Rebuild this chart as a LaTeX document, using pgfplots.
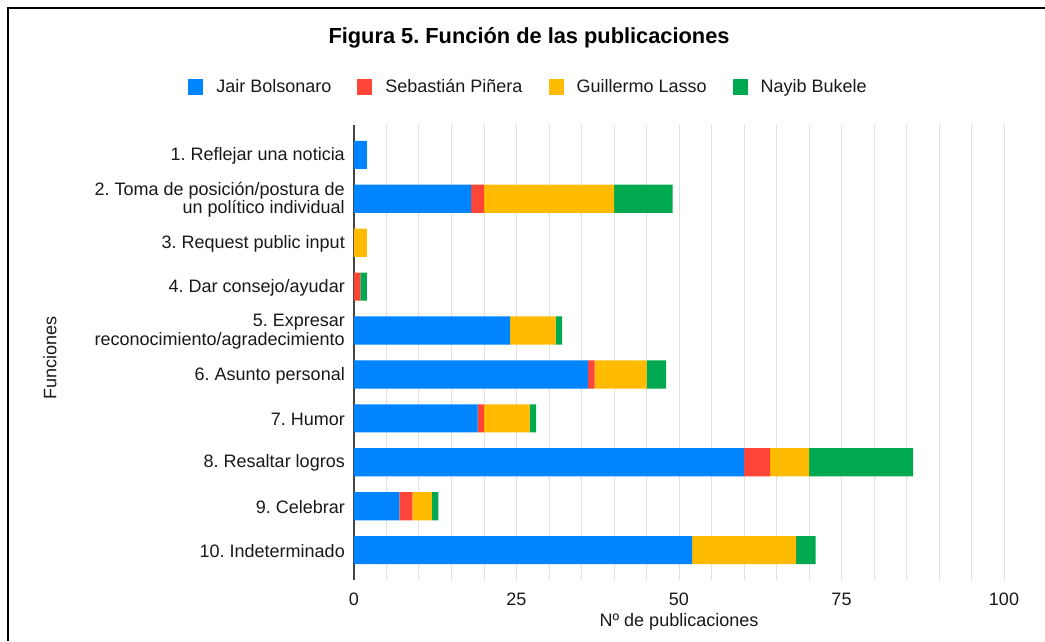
\documentclass[border=0pt]{standalone}
\usepackage{fontspec}
\setmainfont{Liberation Sans}
\usepackage{pgfplots}
\pgfplotsset{compat=1.18}
\definecolor{cBlue}{HTML}{0084FF}
\definecolor{cRed}{HTML}{FF4538}
\definecolor{cYellow}{HTML}{FFBB00}
\definecolor{cGreen}{HTML}{00A94F}
\definecolor{cGrid}{HTML}{E0E0E0}
\definecolor{cAxis}{HTML}{444444}
\frenchspacing
\begin{document}
\begin{tikzpicture}[x=1pt,y=1pt]
\useasboundingbox (0,0) rectangle (1045,641);
\fill[white] (0,0) rectangle (1045,641);
\draw[line width=2pt] (8,0) -- (8,633) -- (1046,633);
\begin{axis}[
  at={(354pt,61pt)}, anchor=south west,
  scale only axis, width=650pt, height=455pt,
  xbar stacked, bar width=0.64,
  xmin=0, xmax=100, ymin=-0.68, ymax=9.68, y dir=reverse,
  xtick={25,50,75,100},
  minor xtick={5,10,15,20,30,35,40,45,55,60,65,70,80,85,90,95},
  xmajorgrids, xminorgrids,
  major grid style={draw=cGrid, line width=1pt},
  minor grid style={draw=cGrid, line width=1pt},
  extra x ticks={0}, extra x tick labels={0},
  extra x tick style={major grid style={draw=cAxis, line width=1.4pt}},
  axis line style={draw=none},
  tick style={draw=none},
  major tick length=0pt, minor tick length=0pt,
  ytick={0,...,9},
  yticklabels={{1. Reflejar una noticia},
    {2. Toma de posición/postura de\\un político individual},
    {3. Request public input},
    {4. Dar consejo/ayudar},
    {5. Expresar\\reconocimiento/agradecimiento},
    {6. Asunto personal},
    {7. Humor},
    {8. Resaltar logros},
    {9. Celebrar},
    {10. Indeterminado}},
  yticklabel style={align=right, font=\fontsize{18}{18.5}\selectfont, inner sep=0pt, xshift=-9pt, yshift=-1pt, text=black!90},
  xticklabel style={font=\fontsize{18}{18.5}\selectfont, inner sep=0pt, yshift=-13pt, text=black!90},
  /pgf/number format/assume math mode=true,
  legend columns=4,
  legend style={at={(0.2685,1.0835)}, anchor=center, draw=none, fill=none,
    font=\fontsize{18}{18.5}\selectfont, text=black!90,
    /tikz/every odd column/.append style={column sep=11pt},
    /tikz/every even column/.append style={column sep=24pt}},
  legend image code/.code={\fill[#1] (0pt,-8pt) rectangle (15pt,8pt);},
]
\addplot[fill=cBlue, draw=none] coordinates {(2,0) (18,1) (0,2) (0,3) (24,4) (36,5) (19,6) (60,7) (7,8) (52,9)};
\addplot[fill=cRed, draw=none] coordinates {(0,0) (2,1) (0,2) (1,3) (0,4) (1,5) (1,6) (4,7) (2,8) (0,9)};
\addplot[fill=cYellow, draw=none] coordinates {(0,0) (20,1) (2,2) (0,3) (7,4) (8,5) (7,6) (6,7) (3,8) (16,9)};
\addplot[fill=cGreen, draw=none] coordinates {(0,0) (9,1) (0,2) (1,3) (1,4) (3,5) (1,6) (16,7) (1,8) (3,9)};
\legend{Jair Bolsonaro, Sebastián Piñera, Guillermo Lasso, Nayib Bukele}
\end{axis}
\node[font=\fontsize{21.8}{26}\selectfont\bfseries, anchor=base] at (529,597) {Figura 5. Función de las publicaciones};
\node[font=\fontsize{18}{18.5}\selectfont, rotate=90, anchor=center, text=black!90] at (50,283) {Funciones};
\node[font=\fontsize{18}{18.5}\selectfont, anchor=base, text=black!90] at (679,15) {Nº de publicaciones};
\end{tikzpicture}
\end{document}
